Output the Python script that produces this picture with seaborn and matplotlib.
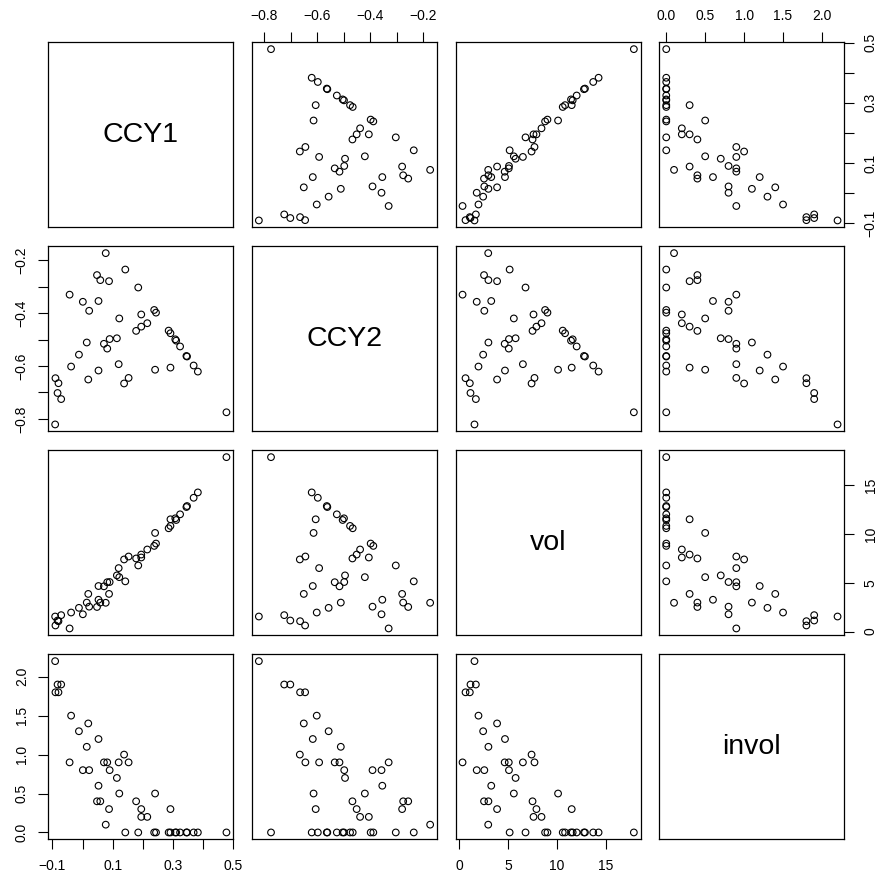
import numpy as np
import pandas as pd
import seaborn as sns
import matplotlib
matplotlib.use("Agg")
import matplotlib.pyplot as plt

# valores (46 observacoes)
ccy1 = [0.478, 0.383, 0.369, 0.347, 0.345, 0.324, 0.311, 0.308, 0.292, 0.286,
        0.292, 0.241, 0.244, 0.238, 0.215, 0.195, 0.195, 0.178, 0.185, 0.153,
        0.138, 0.142, 0.120, 0.114, 0.122, 0.090, 0.082, 0.071, 0.088, 0.077,
        0.059, 0.048, 0.053, 0.053, 0.019, 0.014, 0.022, 0.001, -0.012, -0.038,
        -0.043, -0.071, -0.083, -0.080, -0.090, -0.091]
ccy2 = [-0.775, -0.621, -0.598, -0.564, -0.562, -0.526, -0.504, -0.499, -0.476, -0.466,
        -0.606, -0.614, -0.398, -0.388, -0.438, -0.451, -0.405, -0.467, -0.303, -0.645,
        -0.666, -0.235, -0.593, -0.495, -0.420, -0.498, -0.534, -0.516, -0.279, -0.173,
        -0.275, -0.256, -0.354, -0.617, -0.651, -0.511, -0.391, -0.357, -0.557, -0.602,
        -0.330, -0.725, -0.702, -0.665, -0.646, -0.821]
vol = [17.9, 14.28, 13.73, 12.88, 12.78, 12.03, 11.45, 11.62, 10.84, 10.6,
       11.52, 10.12, 9.03, 8.79, 8.42, 7.9, 7.6, 7.5, 6.78, 7.7,
       7.4, 5.15, 6.51, 5.76, 5.58, 5.08, 5.06, 4.64, 3.86, 2.95,
       2.97, 2.52, 3.26, 4.67, 3.86, 2.97, 2.55, 1.77, 2.43, 1.95,
       0.315, 1.68, 1.13, 1.06, 0.62, 1.54]
invol = [0, 0, 0, 0, 0, 0, 0, 0, 0, 0,
         0.3, 0.5, 0, 0, 0.2, 0.3, 0.2, 0.4, 0, 0.9,
         1.0, 0, 0.9, 0.7, 0.5, 0.8, 0.9, 0.9, 0.3, 0.1,
         0.4, 0.4, 0.6, 1.2, 1.4, 1.1, 0.8, 0.8, 1.3, 1.5,
         0.9, 1.9, 1.9, 1.8, 1.8, 2.2]

var_names = ["CCY1", "CCY2", "vol", "invol"]

# ticks e rotulos de cada variavel (R omite rotulos sobrepostos)
tick_pos = {
    "CCY1": [-0.1, 0.0, 0.1, 0.2, 0.3, 0.4, 0.5],
    "CCY2": [-0.8, -0.7, -0.6, -0.5, -0.4, -0.3, -0.2],
    "vol": [0, 5, 10, 15],
    "invol": [0.0, 0.5, 1.0, 1.5, 2.0],
}
tick_txt = {
    "CCY1": ["\u22120.1", "", "0.1", "", "0.3", "", "0.5"],
    "CCY2": ["\u22120.8", "", "\u22120.6", "", "\u22120.4", "", "\u22120.2"],
    "vol": ["0", "5", "10", "15"],
    "invol": ["0.0", "0.5", "1.0", "1.5", "2.0"],
}

df = pd.DataFrame({"CCY1": ccy1, "CCY2": ccy2, "vol": vol, "invol": invol})

sns.set_style("white", {"text.color": "black", "xtick.color": "black",
                        "ytick.color": "black", "axes.labelcolor": "black",
                        "axes.edgecolor": "black"})
plt.rcParams["font.family"] = ["Liberation Sans", "DejaVu Sans"]

g = sns.PairGrid(df, vars=var_names, despine=False, height=2.2)
g.map_offdiag(sns.scatterplot, s=23, facecolors="none", edgecolor="black", linewidth=0.8)

W, H = 880, 877
col_left = [48.3, 252.0, 455.7, 659.4]
row_top = [42.3, 246.3, 450.3, 654.3]
size = 185.0

g.figure.set_size_inches(W / 100, H / 100)

n = len(var_names)
for i in range(n):
    for j in range(n):
        ax = g.axes[i, j]
        ax.set_position([col_left[j] / W, 1 - (row_top[i] + size) / H, size / W, size / H])
        ax.set_xlabel("")
        ax.set_ylabel("")
        ax.tick_params(which="both", bottom=False, top=False, left=False, right=False,
                       labelbottom=False, labeltop=False, labelleft=False, labelright=False)
        for sp in ax.spines.values():
            sp.set_visible(True)
            sp.set_color("black")
            sp.set_linewidth(0.9)
        for coll in ax.collections:
            coll.set_facecolor("none")
            coll.set_edgecolor("black")
        if i == j:
            ax.text(0.5, 0.5, var_names[i], transform=ax.transAxes,
                    ha="center", va="center", fontsize=20.5, color="black")

# limites com 4% de folga, como no R
for k, name in enumerate(var_names):
    lo, hi = df[name].min(), df[name].max()
    pad = 0.04 * (hi - lo)
    g.axes[0, k].set_xlim(lo - pad, hi + pad)
    g.axes[k, 0].set_ylim(lo - pad, hi + pad)

for k, name in enumerate(var_names):
    g.axes[0, k].set_xticks(tick_pos[name], labels=tick_txt[name])
    g.axes[k, 0].set_yticks(tick_pos[name], labels=tick_txt[name])

tk = dict(length=7, width=0.8, pad=7, labelsize=10, color="black", labelcolor="black")
for j in range(n):
    if j % 2 == 1:
        g.axes[0, j].tick_params(axis="x", top=True, labeltop=True, **tk)
    else:
        g.axes[n - 1, j].tick_params(axis="x", bottom=True, labelbottom=True, **tk)
for i in range(n):
    if i % 2 == 1:
        ax = g.axes[i, 0]
        ax.tick_params(axis="y", left=True, labelleft=True, labelrotation=90, **tk)
    else:
        ax = g.axes[i, n - 1]
        ax.tick_params(axis="y", right=True, labelright=True, labelrotation=90, **tk)
    for lab in ax.get_yticklabels():
        lab.set_va("center")

g.figure.savefig("out.png", dpi=100)
plt.close()
